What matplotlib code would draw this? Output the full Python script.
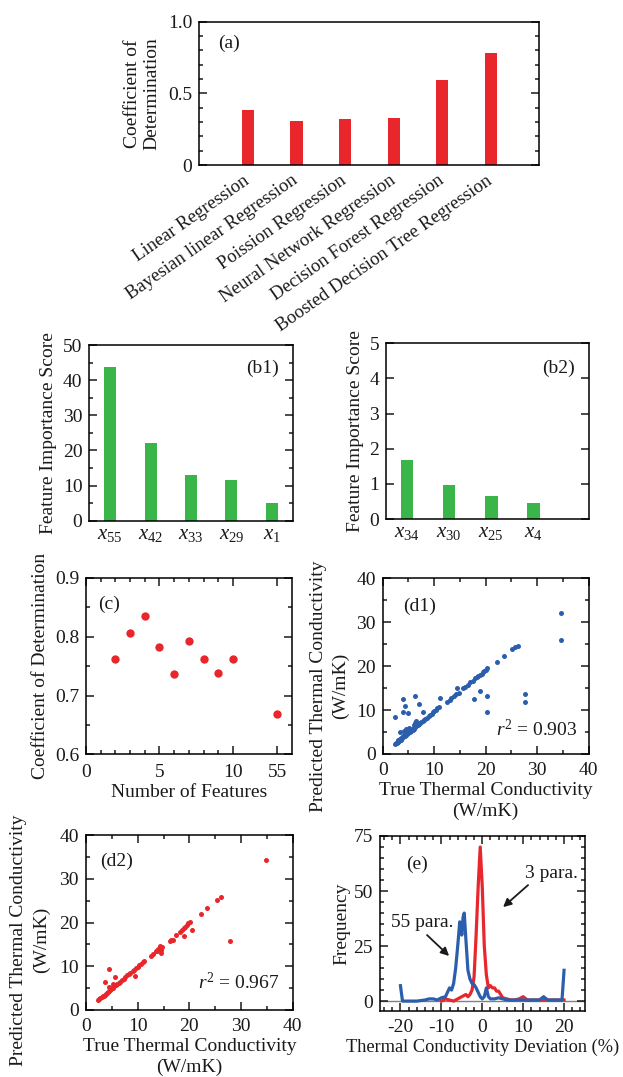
import matplotlib
matplotlib.use("Agg")
import matplotlib.pyplot as plt
from matplotlib.ticker import MultipleLocator, FixedLocator

plt.rcParams['font.family'] = ['Liberation Serif', 'DejaVu Serif']
plt.rcParams['mathtext.fontset'] = 'custom'
plt.rcParams['mathtext.rm'] = 'Liberation Serif'
plt.rcParams['mathtext.it'] = 'Liberation Serif:italic'
plt.rcParams['font.size'] = 14
plt.rcParams['axes.unicode_minus'] = False
plt.rcParams['text.color'] = '#1a1a1a'
plt.rcParams['axes.labelcolor'] = '#1a1a1a'
plt.rcParams['xtick.color'] = '#1a1a1a'
plt.rcParams['ytick.color'] = '#1a1a1a'
plt.rcParams['axes.linewidth'] = 1.1

RED = '#e8262b'
GREEN = '#3ab54a'
BLUE = '#2b5fad'
INK = '#1a1a1a'

# ---------------- data ----------------
models = ['Linear Regression', 'Bayesian linear Regression', 'Poission Regression',
          'Neural Network Regression', 'Decision Forest Regression',
          'Boosted Decision Tree Regression']
model_r2 = [0.386, 0.305, 0.32, 0.33, 0.595, 0.78]

b1_features = ['$x_{55}$', '$x_{42}$', '$x_{33}$', '$x_{29}$', '$x_{1}$']
b1_scores = [43.8, 22.0, 12.9, 11.5, 5.0]

b2_features = ['$x_{34}$', '$x_{30}$', '$x_{25}$', '$x_{4}$']
b2_scores = [1.68, 0.97, 0.66, 0.46]

n_features = [2, 3, 4, 5, 6, 7, 8, 9, 10, 55]
n_features_r2 = [0.762, 0.806, 0.835, 0.782, 0.737, 0.792, 0.762, 0.738, 0.763, 0.668]

d1_true = [2.3, 2.5, 2.7, 2.9, 3.0, 3.2, 3.3, 3.5, 3.6, 3.8, 3.9, 4.0, 4.2, 4.3, 4.4, 4.6,
           4.7, 4.8, 5.0, 5.1, 5.3, 5.5, 5.6, 5.8, 6.0, 6.2, 6.3, 6.5, 6.8, 7.0, 7.3, 7.5,
           7.8, 8.0, 8.3, 8.6, 8.9, 9.2, 9.5, 9.8, 10.0, 10.3, 10.6, 11.0,
           3.4, 4.1, 4.5, 5.2, 6.0, 6.5,
           12.5, 13.0, 13.3, 13.8, 14.2, 14.5, 14.8, 15.5, 16.0, 16.5, 17.0, 17.5, 18.0,
           18.3, 18.6, 18.9, 19.2, 19.4, 19.7, 20.0, 20.3,
           22.2, 23.6, 25.1, 25.7, 26.2,
           2.4, 3.9, 4.4, 4.0, 5.0, 6.3, 7.1, 7.9, 11.2, 17.8, 18.9, 20.2, 20.2,
           27.6, 27.6, 34.6, 34.6]
d1_pred = [2.2, 2.5, 2.6, 2.8, 3.1, 3.0, 3.4, 3.3, 3.7, 3.6, 4.1, 3.8, 4.2, 4.6, 4.0, 4.4,
           5.0, 4.6, 4.8, 5.4, 5.0, 5.3, 5.8, 5.5, 5.7, 6.2, 7.0, 6.3, 6.5, 6.8, 7.0, 7.3,
           7.5, 7.8, 8.0, 8.3, 8.6, 8.8, 9.2, 9.5, 9.8, 10.0, 10.4, 10.7,
           4.9, 5.3, 5.6, 6.0, 6.6, 7.4,
           11.8, 12.2, 12.7, 13.2, 13.6, 15.0, 14.0, 15.1, 15.3, 15.7, 16.3, 16.6, 17.2,
           17.6, 17.8, 18.0, 18.3, 18.7, 18.9, 19.2, 19.5,
           21.0, 22.3, 24.0, 24.4, 24.6,
           8.5, 12.5, 11.0, 9.6, 9.4, 13.1, 11.3, 9.6, 12.7, 12.5, 14.4, 13.1, 9.6,
           13.6, 11.9, 32.2, 26.0]

d2_true = [2.4, 2.6, 2.8, 3.0, 3.2, 3.4, 3.6, 3.8, 4.0, 4.2, 4.4, 4.6, 4.8, 5.0, 5.2, 5.5,
           5.8, 6.0, 6.3, 6.6, 7.0, 7.3, 7.6, 8.0, 8.3, 8.6, 9.0, 9.3, 9.6, 10.0, 10.3,
           10.7, 11.0, 11.3, 12.5, 13.0, 13.5, 13.8, 14.0, 14.3, 14.5, 14.8, 16.2, 16.5,
           16.8, 17.5, 18.2, 18.6, 18.9, 19.2, 19.5, 19.8, 20.2, 22.2, 23.5, 25.3, 26.2,
           4.5, 5.2,
           3.6, 4.4, 5.7, 9.5, 19.0, 20.5, 14.5, 27.9, 34.8]
d2_pred = [2.2, 2.5, 2.7, 2.9, 3.1, 3.3, 3.5, 3.7, 3.9, 4.1, 4.3, 4.6, 4.7, 5.0, 5.1, 5.4,
           5.7, 6.0, 6.2, 6.5, 6.9, 7.2, 7.5, 7.9, 8.2, 8.5, 8.9, 9.2, 9.5, 9.9, 10.2,
           10.6, 11.0, 11.2, 12.4, 12.8, 13.4, 13.5, 14.0, 14.6, 13.8, 14.5, 15.8, 16.0,
           16.1, 17.2, 17.8, 18.3, 18.8, 19.0, 19.4, 19.8, 20.2, 22.0, 23.4, 25.2, 25.9,
           5.3, 6.0,
           6.4, 9.4, 7.5, 7.7, 17.0, 18.3, 13.0, 15.7, 34.3]

dev_55_x = [-20, -19.5, -18, -16, -14, -13, -12, -11, -10, -9, -8, -7.5, -7, -6.5, -6,
            -5.5, -5.2, -5, -4.7, -4.4, -4, -3.5, -3, -2.5, -2, -1.5, -1, -0.5, 0, 0.5,
            1, 1.5, 2, 3, 4, 5, 6, 8, 10, 12, 14, 15, 16, 18, 19.5, 20]
dev_55_y = [7, 0, 0, 0, 0.5, 1, 1, 0.5, 1.5, 2, 6, 5, 8, 15, 25,
            36, 33, 30, 38, 40, 28, 14, 10, 8, 7.5, 6, 4, 2, 1, 2,
            6, 2, 1, 1, 1.5, 1, 0.5, 0.5, 0.5, 0.5, 0.5, 2, 0.5, 0.5, 0.5, 14]
dev_3_x = [-10, -9, -8, -7, -6, -5, -4, -3.5, -3, -2.5, -2, -1.5, -1, -0.5, 0, 0.5, 1,
           1.5, 2, 2.5, 3, 3.5, 4, 4.5, 5, 6, 7, 8, 9, 10, 11, 12, 14, 16, 18, 20]
dev_3_y = [0, 1, 0.5, 0, 1, 2, 3, 2, 3, 5, 11, 30, 52, 70, 52, 25, 12,
           6, 7, 6, 6, 4.5, 4.5, 3, 1.5, 1, 0.5, 0.5, 1, 2, 0.5, 0.5, 0.5, 0.5, 0.5, 0.5]

# ---------------- figure ----------------
W, H = 623, 1077
fig = plt.figure(figsize=(W / 100, H / 100), dpi=100)


def px_axes(l, r, t, b):
    return fig.add_axes([l / W, 1 - b / H, (r - l) / W, (b - t) / H])


def style(ax, pad_x=5, pad_y=5):
    ax.tick_params(which='both', direction='in', top=True, right=True, width=1.1)
    ax.tick_params(which='major', length=5.5)
    ax.tick_params(which='minor', length=3)
    ax.tick_params(axis='x', pad=pad_x)
    ax.tick_params(axis='y', pad=pad_y)


# (a)
ax = px_axes(199.3, 539.3, 21.7, 165)
pos_a = list(range(1, len(models) + 1))
ax.bar(pos_a, model_r2, width=0.25, color=RED)
ax.set_xlim(0, 7)
ax.set_ylim(0, 1.0)
ax.set_xticks(pos_a)
ax.set_xticklabels(models, rotation=35, ha='right', va='center', rotation_mode='anchor',
                   fontsize=13.5)
ax.set_yticks([0, 0.5, 1.0])
ax.set_yticklabels(['0', '0.5', '1.0'])
ax.yaxis.set_minor_locator(MultipleLocator(0.1))
style(ax)
ax.tick_params(axis='x', which='both', bottom=False, top=False, pad=10)
ax.set_ylabel('Coefficient of\nDetermination', linespacing=1.15)
ax.yaxis.set_label_coords(-0.115, 0.5)
ax.text(0.055, 0.85, '(a)', transform=ax.transAxes, va='center', ha='left')

# (b1)
ax = px_axes(89.3, 292.7, 345, 520.7)
pos_b1 = list(range(len(b1_features)))
ax.bar(pos_b1, b1_scores, width=0.3, color=GREEN)
ax.set_xlim(-0.52, 4.52)
ax.set_ylim(0, 50)
ax.set_xticks(pos_b1)
ax.set_xticklabels(b1_features, fontsize=15)
ax.yaxis.set_major_locator(MultipleLocator(10))
ax.yaxis.set_minor_locator(MultipleLocator(5))
style(ax)
ax.tick_params(axis='x', which='both', bottom=False, top=False, pad=3)
ax.set_ylabel('Feature Importance Score')
ax.text(0.93, 0.866, '(b1)', transform=ax.transAxes, va='center', ha='right')

# (b2)
ax = px_axes(386, 589.3, 343.3, 519)
pos_b2 = list(range(len(b2_features)))
ax.bar(pos_b2, b2_scores, width=0.3, color=GREEN)
ax.set_xlim(-0.5, 4.33)
ax.set_ylim(0, 5)
ax.set_xticks(pos_b2)
ax.set_xticklabels(b2_features, fontsize=15)
ax.yaxis.set_major_locator(MultipleLocator(1))
style(ax)
ax.tick_params(axis='x', which='both', bottom=False, top=False, pad=3)
ax.set_ylabel('Feature Importance Score')
ax.text(0.93, 0.857, '(b2)', transform=ax.transAxes, va='center', ha='right')

# (c)
ax = px_axes(86, 291.7, 578, 754.3)
pos_c = [n if n <= 10 else 13 for n in n_features]
ax.plot(pos_c, n_features_r2, 'o', color=RED, markersize=6, markeredgewidth=0)
ax.set_xlim(0, 14)
ax.set_ylim(0.6, 0.9)
ax.xaxis.set_major_locator(FixedLocator([0, 5, 10, 13]))
ax.set_xticklabels(['0', '5', '10', '55'])
ax.xaxis.set_minor_locator(FixedLocator([1, 2, 3, 4, 6, 7, 8, 9]))
ax.set_yticks([0.6, 0.7, 0.8, 0.9])
ax.set_yticklabels(['0.6', '0.7', '0.8', '0.9'])
ax.yaxis.set_minor_locator(MultipleLocator(0.05))
style(ax, pad_x=7)
ax.set_xlabel('Number of Features', labelpad=2)
ax.set_ylabel('Coefficient of Determination')
ax.text(0.06, 0.85, '(c)', transform=ax.transAxes, va='center', ha='left')

# (d1)
ax = px_axes(382.7, 588.7, 578.3, 754)
ax.plot(d1_true, d1_pred, 'o', color=BLUE, markersize=3.6, markeredgewidth=0)
ax.set_xlim(0, 40)
ax.set_ylim(0, 40)
ax.xaxis.set_major_locator(MultipleLocator(10))
ax.xaxis.set_minor_locator(MultipleLocator(5))
ax.yaxis.set_major_locator(MultipleLocator(10))
ax.yaxis.set_minor_locator(MultipleLocator(5))
style(ax, pad_x=6)
ax.set_xlabel('True Thermal Conductivity\n(W/mK)', linespacing=1.3, labelpad=2)
ax.set_ylabel('Predicted Thermal Conductivity\n(W/mK)', linespacing=1.3)
ax.yaxis.set_label_coords(-0.165, 0.385)
ax.text(3.9, 33.7, '(d1)', va='center', ha='left')
ax.text(37.8, 5.5, '$r^2$ = 0.903', va='center', ha='right')

# (d2)
ax = px_axes(86, 292.7, 835, 1010)
ax.plot(d2_true, d2_pred, 'o', color=RED, markersize=3.6, markeredgewidth=0)
ax.set_xlim(0, 40)
ax.set_ylim(0, 40)
ax.xaxis.set_major_locator(MultipleLocator(10))
ax.xaxis.set_minor_locator(MultipleLocator(5))
ax.yaxis.set_major_locator(MultipleLocator(10))
ax.yaxis.set_minor_locator(MultipleLocator(5))
style(ax, pad_x=6)
ax.set_xlabel('True Thermal Conductivity\n(W/mK)', linespacing=1.3, labelpad=2)
ax.set_ylabel('Predicted Thermal Conductivity\n(W/mK)', linespacing=1.45)
ax.yaxis.set_label_coords(-0.175, 0.40)
ax.text(2.7, 34.0, '(d2)', va='center', ha='left')
ax.text(37.4, 6.2, '$r^2$ = 0.967', va='center', ha='right')

# (e)
ax = px_axes(380, 584.5, 836, 1011)
ax.axhline(0, color='#808080', lw=1.0, zorder=1)
ax.plot(dev_3_x, dev_3_y, color=RED, lw=2.3, zorder=2)
ax.plot(dev_55_x, dev_55_y, color=BLUE, lw=2.3, zorder=3)
ax.set_xlim(-25, 25)
ax.set_ylim(-4.5, 75)
ax.set_xticks([-20, -10, 0, 10, 20])
ax.xaxis.set_minor_locator(MultipleLocator(2))
ax.set_yticks([0, 25, 50, 75])
ax.yaxis.set_minor_locator(MultipleLocator(5))
style(ax, pad_x=6)
ax.set_xlabel('Thermal Conductivity Deviation (%)', labelpad=2, fontsize=13.2)
ax.set_ylabel('Frequency', labelpad=2)
ax.text(-18.5, 62, '(e)', va='center', ha='left')
ax.text(17, 58, '3 para.', ha='center', va='center')
ax.annotate('', xy=(5.1, 42.7), xytext=(11.2, 52.7),
            arrowprops=dict(arrowstyle='-|>', color=INK, lw=1.3,
                            mutation_scale=12, shrinkA=0, shrinkB=0))
ax.text(-14.7, 35.7, '55 para.', ha='center', va='center')
ax.annotate('', xy=(-8.1, 20.5), xytext=(-13.5, 30.0),
            arrowprops=dict(arrowstyle='-|>', color=INK, lw=1.3,
                            mutation_scale=12, shrinkA=0, shrinkB=0))

fig.savefig('out.png', dpi=100)
